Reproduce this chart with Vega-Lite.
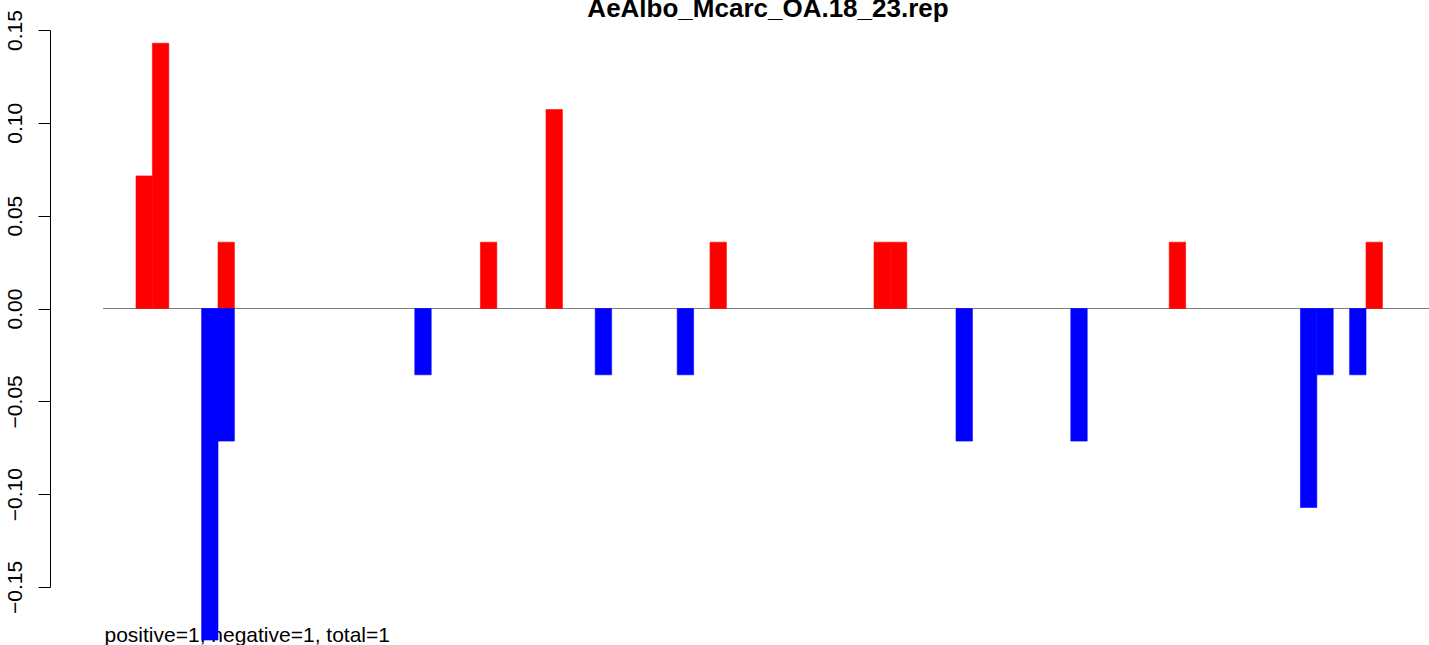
{
  "$schema": "https://vega.github.io/schema/vega-lite/v6.json",
  "autosize": {"type": "none"},
  "padding": {"left": 50, "top": 30, "right": 0, "bottom": 58},
  "width": 1379,
  "height": 557,
  "background": "white",
  "config": {"view": {"stroke": null}, "font": "Liberation Sans"},
  "title": {
    "text": "AeAlbo_Mcarc_OA.18_23.rep",
    "font": "Liberation Sans",
    "fontSize": 26,
    "fontWeight": "bold",
    "color": "black",
    "anchor": "middle",
    "frame": "group",
    "dx": 28.5,
    "dy": 33,
    "baseline": "alphabetic",
    "offset": 0
  },
  "data": {
    "values": [
      {"start": 2, "end": 3, "value": 0.071429, "direction": "positive"},
      {"start": 3, "end": 4, "value": 0.142857, "direction": "positive"},
      {"start": 7, "end": 8, "value": 0.035714, "direction": "positive"},
      {"start": 23, "end": 24, "value": 0.035714, "direction": "positive"},
      {"start": 27, "end": 28, "value": 0.107143, "direction": "positive"},
      {"start": 37, "end": 38, "value": 0.035714, "direction": "positive"},
      {"start": 47, "end": 48, "value": 0.035714, "direction": "positive"},
      {"start": 48, "end": 49, "value": 0.035714, "direction": "positive"},
      {"start": 65, "end": 66, "value": 0.035714, "direction": "positive"},
      {"start": 77, "end": 78, "value": 0.035714, "direction": "positive"},
      {"start": 6, "end": 7, "value": -0.178571, "direction": "negative"},
      {"start": 7, "end": 8, "value": -0.071429, "direction": "negative"},
      {"start": 19, "end": 20, "value": -0.035714, "direction": "negative"},
      {"start": 30, "end": 31, "value": -0.035714, "direction": "negative"},
      {"start": 35, "end": 36, "value": -0.035714, "direction": "negative"},
      {"start": 52, "end": 53, "value": -0.071429, "direction": "negative"},
      {"start": 59, "end": 60, "value": -0.071429, "direction": "negative"},
      {"start": 73, "end": 74, "value": -0.107143, "direction": "negative"},
      {"start": 74, "end": 75, "value": -0.035714, "direction": "negative"},
      {"start": 76, "end": 77, "value": -0.035714, "direction": "negative"}
    ]
  },
  "layer": [
    {
      "mark": {"type": "rule", "color": "#7f7f7f", "strokeWidth": 1},
      "encoding": {
        "x": {"datum": 0, "type": "quantitative"},
        "x2": {"datum": 86},
        "y": {"datum": 0, "type": "quantitative"}
      }
    },
    {
      "mark": {"type": "bar", "filled": true, "strokeWidth": 0.6},
      "encoding": {
        "x": {
          "field": "start",
          "type": "quantitative",
          "scale": {"domain": [-3.244, 80.84], "nice": false, "zero": false},
          "axis": {
            "title": "positive=1, negative=1, total=1",
            "titleFont": "Liberation Sans",
            "titleFontSize": 21,
            "titleFontWeight": "normal",
            "titleColor": "black",
            "titleAnchor": "start",
            "titleAlign": "left",
            "titleBaseline": "alphabetic",
            "titleX": 54,
            "titleY": 54,
            "domain": false,
            "ticks": false,
            "labels": false,
            "grid": false
          }
        },
        "x2": {"field": "end"},
        "y": {
          "field": "value",
          "type": "quantitative",
          "stack": null,
          "scale": {"domain": [-0.15, 0.15], "nice": false, "zero": false},
          "axis": {
            "title": null,
            "values": [-0.15, -0.1, -0.05, 0, 0.05, 0.1, 0.15],
            "format": ".2f",
            "grid": false,
            "domain": true,
            "domainColor": "black",
            "domainWidth": 1,
            "ticks": true,
            "tickColor": "black",
            "tickWidth": 1,
            "tickSize": 12,
            "labelAngle": 270,
            "labelAlign": "center",
            "labelBaseline": "alphabetic",
            "labelPadding": 17,
            "labelFont": "Liberation Sans",
            "labelFontSize": 21,
            "labelColor": "black",
            "labelOverlap": false,
            "labelFlush": false,
            "labelBound": false
          }
        },
        "y2": {"datum": 0},
        "color": {
          "field": "direction",
          "type": "nominal",
          "scale": {"domain": ["positive", "negative"], "range": ["#ff0000", "#0000ff"]},
          "legend": null
        },
        "stroke": {
          "field": "direction",
          "type": "nominal",
          "scale": {"domain": ["positive", "negative"], "range": ["#ff0000", "#0000ff"]},
          "legend": null
        }
      }
    }
  ]
}
